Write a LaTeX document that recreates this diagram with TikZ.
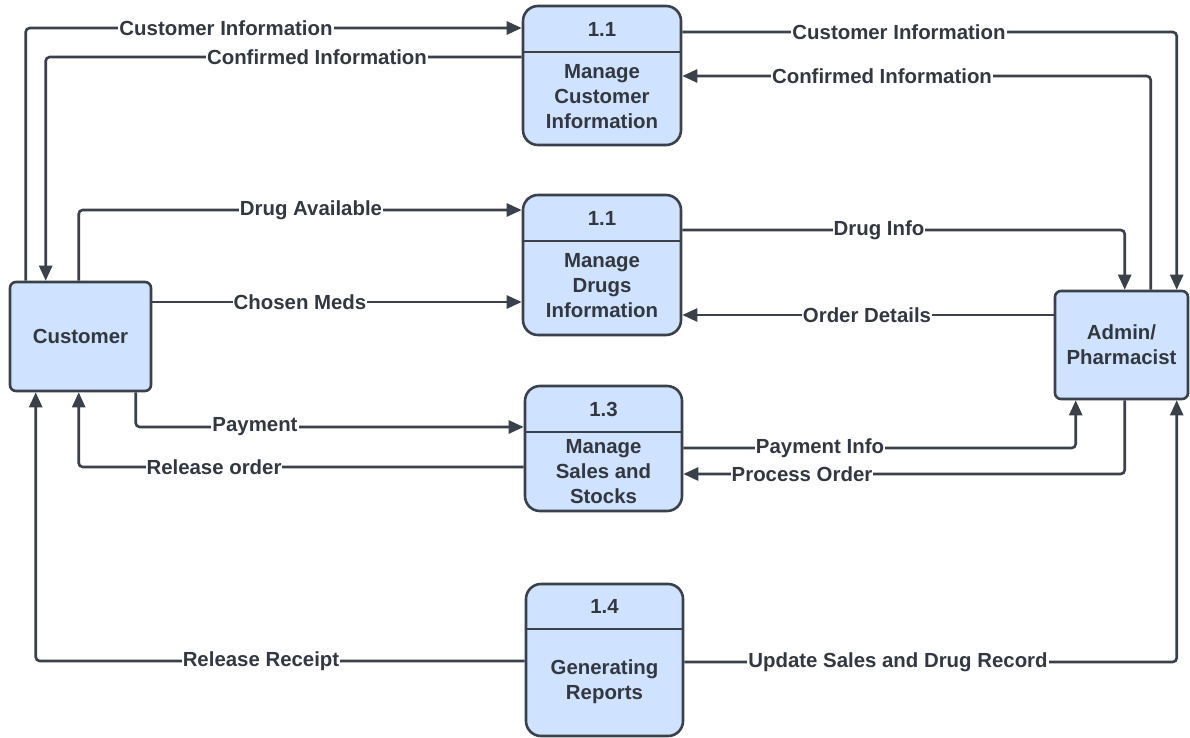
\documentclass[tikz,border=0pt]{standalone}
\usepackage{fontspec}
\setmainfont{Liberation Sans}
\usetikzlibrary{arrows.meta,calc}
\definecolor{boxfill}{HTML}{CFE2FF}
\definecolor{edge}{HTML}{3A414A}
\definecolor{txt}{HTML}{333840}
\tikzset{
  every node/.style={font=\fontsize{20.4pt}{25pt}\selectfont\bfseries, text=txt},
  entity/.style={draw=edge, fill=boxfill, line width=2.6pt, rounded corners=6pt, align=center, inner sep=0pt},
  proc/.style={draw=edge, fill=boxfill, line width=2.6pt, rounded corners=15pt, inner sep=0pt},
  ptext/.style={align=center, inner sep=0pt},
  flow/.style={draw=edge, line width=2.6pt, rounded corners=4pt, -{Triangle[length=15pt,width=13pt]}},
  plain/.style={draw=edge, line width=2.6pt},
  lbl/.style={fill=white, inner sep=1pt}
}
\begin{document}
\begin{tikzpicture}[x=1pt,y=-1pt]
\useasboundingbox (0,0) rectangle (1190,738);
% entities
\node[entity, minimum width=141pt, minimum height=109pt] (cust) at (80.5,336.5) {Customer};
\node[entity, minimum width=133pt, minimum height=108pt] (adm) at (1121.5,345) {Admin/\\Pharmacist};
% processes
\node[proc, minimum width=158pt, minimum height=139pt] (p1) at (602,75.5) {};
\draw[plain] (p1.west |- 0,52) coordinate (p1d) -- (p1d -| p1.east);
\node[ptext] (p1n) at (602,29) {1.1};
\node[ptext] (p1t) at (602,96.5) {Manage\\Customer\\Information};

\node[proc, minimum width=158pt, minimum height=140pt] (p2) at (602,265) {};
\draw[plain] (p2.west |- 0,241) coordinate (p2d) -- (p2d -| p2.east);
\node[ptext] (p2n) at (602,218) {1.1};
\node[ptext] (p2t) at (602,285.5) {Manage\\Drugs\\Information};

\node[proc, minimum width=157pt, minimum height=125pt] (p3) at (603.5,448.5) {};
\draw[plain] (p3.west |- 0,432) coordinate (p3d) -- (p3d -| p3.east);
\node[ptext] (p3n) at (603.5,409) {1.3};
\node[ptext] (p3t) at (603.5,472) {Manage\\Sales and\\Stocks};

\node[proc, minimum width=157pt, minimum height=152pt] (p4) at (604.5,660) {};
\draw[plain] (p4.west |- 0,629) coordinate (p4d) -- (p4d -| p4.east);
\node[ptext] (p4n) at (604.5,606) {1.4};
\node[ptext] (p4t) at (604.5,682) {Generating\\Reports};

% left flows
\draw[flow] ([xshift=17pt]cust.north west) |- ([yshift=47.5pt]p1.west);
\node[lbl] (l1) at (226,28) {Customer Information};
\draw[flow] ([yshift=18.5pt]p1.west) -| ([xshift=37pt]cust.north west);
\node[lbl] (l2) at (317,57) {Confirmed Information};
\draw[flow] ([xshift=70pt]cust.north west) |- ([yshift=55pt]p2.west);
\node[lbl] (l3) at (311,210) {Drug Available};
\draw[flow] ([yshift=34.5pt]cust.east) coordinate (c4s) -- (c4s -| p2.west);
\node[lbl] (l4) at (300,302) {Chosen Meds};
\draw[flow] ([xshift=127pt]cust.south west) |- ([yshift=21.5pt]p3.west);
\node[lbl] (l5) at (255,427) {Payment};
\draw[flow] ([yshift=-18.5pt]p3.west) -| ([xshift=70pt]cust.south west);
\node[lbl] (l6) at (214,467) {Release order};
\draw[flow] ([yshift=-1pt]p4.west) -| ([xshift=27pt]cust.south west);
\node[lbl] (l7) at (261,661) {Release Receipt};

% right flows
\draw[flow] ([yshift=43.5pt]p1.east) -| ([xshift=123pt]adm.north west);
\node[lbl] (l8) at (899,32) {Customer Information};
\draw[flow] ([xshift=97pt]adm.north west) |- ([yshift=-0.5pt]p1.east);
\node[lbl] (l9) at (882,76) {Confirmed Information};
\draw[flow] ([yshift=35pt]p2.east) -| ([xshift=71pt]adm.north west);
\node[lbl] (l10) at (879,230) {Drug Info};
\draw[flow] ([yshift=30pt]adm.west) coordinate (c11s) -- (c11s -| p2.east);
\node[lbl] (l11) at (867,315) {Order Details};
\draw[flow] ([yshift=0.5pt]p3.east) -| ([xshift=22pt]adm.south west);
\node[lbl] (l12) at (820,448) {Payment Info};
\draw[flow] ([xshift=71pt]adm.south west) |- ([yshift=-25.5pt]p3.east);
\node[lbl] (l13) at (802,474) {Process Order};
\draw[flow] ([yshift=-2pt]p4.east) -| ([xshift=123pt]adm.south west);
\node[lbl] (l14) at (898,662) {Update Sales and Drug Record};
\end{tikzpicture}
\end{document}
